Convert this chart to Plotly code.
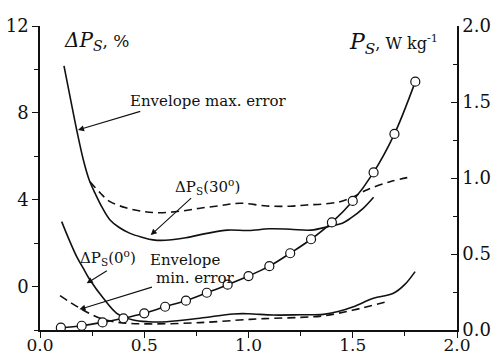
import plotly.graph_objects as go

# Specific power loss P_S (right axis, W/kg), open circles
ps_x = [0.1, 0.2, 0.3, 0.4, 0.5, 0.6, 0.7, 0.8, 0.9, 1.0, 1.1, 1.2, 1.3, 1.4, 1.5, 1.6, 1.7, 1.8]
ps_y = [0.015, 0.028, 0.05, 0.077, 0.11, 0.153, 0.193, 0.245, 0.298, 0.355, 0.42, 0.505,
        0.597, 0.708, 0.849, 1.037, 1.29, 1.634]

# Envelope max. error (left axis, %), solid
emax_x = [0.115, 0.145, 0.176, 0.208, 0.236, 0.264, 0.296, 0.336, 0.38, 0.432, 0.49, 0.542,
          0.6, 0.7, 0.8, 0.9, 1.0, 1.1, 1.2, 1.3, 1.39, 1.45, 1.49, 1.55, 1.6]
emax_y = [10.16, 8.7, 7.21, 5.83, 4.91, 4.30, 3.68, 3.07, 2.72, 2.45, 2.27, 2.15,
          2.13, 2.25, 2.45, 2.6, 2.58, 2.66, 2.64, 2.6, 2.78, 2.92, 3.15, 3.6, 4.11]

# Delta P_S (30 deg), dashed
d30_x = [0.24, 0.29, 0.336, 0.416, 0.5, 0.576, 0.68, 0.767, 0.86, 0.959, 1.087, 1.2, 1.279,
         1.36, 1.439, 1.5, 1.567, 1.679, 1.783]
d30_y = [4.83, 4.3, 3.91, 3.62, 3.45, 3.40, 3.48, 3.61, 3.72, 3.84, 3.71, 3.7, 3.76,
         3.8, 3.91, 4.12, 4.45, 4.83, 5.06]

# Delta P_S (0 deg), solid
d0_x = [0.104, 0.14, 0.176, 0.21, 0.24, 0.304, 0.368, 0.447, 0.52, 0.608, 0.767, 0.927,
        1.0, 1.119, 1.25, 1.359, 1.43, 1.503, 1.599, 1.695, 1.75, 1.799]
d0_y = [2.99, 2.15, 1.38, 0.8, 0.30, -0.54, -1.23, -1.54, -1.62, -1.62, -1.46, -1.26,
        -1.25, -1.31, -1.3, -1.28, -1.15, -0.93, -0.54, -0.31, 0.1, 0.69]

# Envelope min. error, dashed
emin_x = [0.096, 0.192, 0.288, 0.384, 0.528, 0.767, 1.007, 1.119, 1.25, 1.359, 1.503, 1.663]
emin_y = [-0.42, -1.0, -1.46, -1.66, -1.72, -1.66, -1.51, -1.46, -1.42, -1.35, -1.08, -0.70]

BLACK = "#111111"
FONT = "DejaVu Serif"

fig = go.Figure()
fig.add_trace(go.Scatter(x=emax_x, y=emax_y, mode="lines", line=dict(color=BLACK, width=1.6, shape="spline"),
                         yaxis="y"))
fig.add_trace(go.Scatter(x=d30_x, y=d30_y, mode="lines",
                         line=dict(color=BLACK, width=1.6, dash="8px,5px", shape="spline"), yaxis="y"))
fig.add_trace(go.Scatter(x=d0_x, y=d0_y, mode="lines", line=dict(color=BLACK, width=1.6, shape="spline"),
                         yaxis="y"))
fig.add_trace(go.Scatter(x=emin_x, y=emin_y, mode="lines",
                         line=dict(color=BLACK, width=1.6, dash="8px,5px", shape="spline"), yaxis="y"))
fig.add_trace(go.Scatter(x=ps_x, y=ps_y, mode="lines+markers", yaxis="y2",
                         line=dict(color=BLACK, width=1.6, shape="spline"),
                         marker=dict(symbol="circle", size=9, color="white", line=dict(color=BLACK, width=1.2))))

annotations = []
def text(x, y, t, size=15, xanchor="left"):
    annotations.append(dict(x=x, y=y, xref="x", yref="y", text=t, showarrow=False,
                            xanchor=xanchor, yanchor="middle", font=dict(family=FONT, size=size, color=BLACK)))

def arrow(x0, y0, x1, y1):
    annotations.append(dict(x=x1, y=y1, ax=x0, ay=y0, xref="x", yref="y", axref="x", ayref="y",
                            text="", showarrow=True, arrowhead=2, arrowsize=1.1, arrowwidth=1.1,
                            arrowcolor=BLACK, standoff=0, startstandoff=0))

text(0.104, 11.3, "<i>ΔP</i><sub><i>S</i></sub><span style='font-size:17px'>, %</span>", size=20)
text(1.918, 11.2, "<i>P</i><sub><i>S</i></sub><span style='font-size:16px'>, W kg<sup>-1</sup></span>",
     size=22, xanchor="right")
text(0.422, 8.55, "Envelope max. error")
text(0.639, 4.6, "ΔP<sub>S</sub>(30<sup>o</sup>)")
text(0.18, 1.35, "ΔP<sub>S</sub>(0<sup>o</sup>)")
text(0.518, 1.23, "Envelope")
text(0.547, 0.40, "min. error")

arrow(0.488, 8.09, 0.182, 7.21)
arrow(0.732, 4.14, 0.531, 2.37)
arrow(0.328, 0.77, 0.224, 0.15)
arrow(0.544, -0.005, 0.189, -1.05)

axis_font = dict(family=FONT, size=18, color=BLACK)
fig.update_layout(
    width=493, height=356,
    margin=dict(l=40, r=36, t=26, b=26),
    paper_bgcolor="white", plot_bgcolor="white",
    showlegend=False,
    font=dict(family=FONT, color=BLACK),
    annotations=annotations,
    xaxis=dict(range=[0, 2], tickvals=[0, 0.5, 1.0, 1.5, 2.0], ticktext=["0.0", "0.5", "1.0", "1.5", "2.0"],
               ticks="outside", ticklen=6, tickwidth=1.3, tickcolor=BLACK, automargin=False,
               ticklabelstandoff=-7,
               minor=dict(dtick=0.25, tick0=0, ticks="outside", ticklen=4, tickwidth=1.2, tickcolor=BLACK),
               showline=True, linecolor=BLACK, linewidth=1.5, showgrid=False, zeroline=False,
               tickfont=dict(family=FONT, size=17, color=BLACK)),
    yaxis=dict(range=[-2, 12], tickvals=[0, 4, 8, 12], ticktext=["0", "4", "8", "12"],
               ticks="outside", ticklen=6, tickwidth=1.3, tickcolor=BLACK, automargin=False,
               minor=dict(tickvals=[-2, 2, 6, 10], ticks="outside", ticklen=4, tickwidth=1.2, tickcolor=BLACK),
               showline=True, linecolor=BLACK, linewidth=1.5, showgrid=False, zeroline=False,
               tickfont=axis_font),
    yaxis2=dict(range=[0, 2], overlaying="y", side="right", automargin=False,
                tickvals=[0, 0.5, 1.0, 1.5, 2.0], ticktext=["0.0", "0.5", "1.0", "1.5", "2.0"],
                ticks="inside", ticklen=6, tickwidth=1.3, tickcolor=BLACK,
                minor=dict(dtick=0.25, tick0=0, ticks="inside", ticklen=4, tickwidth=1.2, tickcolor=BLACK),
                showline=True, linecolor=BLACK, linewidth=1.5, showgrid=False, zeroline=False,
                tickfont=axis_font),
)

fig.write_html("out.html")
